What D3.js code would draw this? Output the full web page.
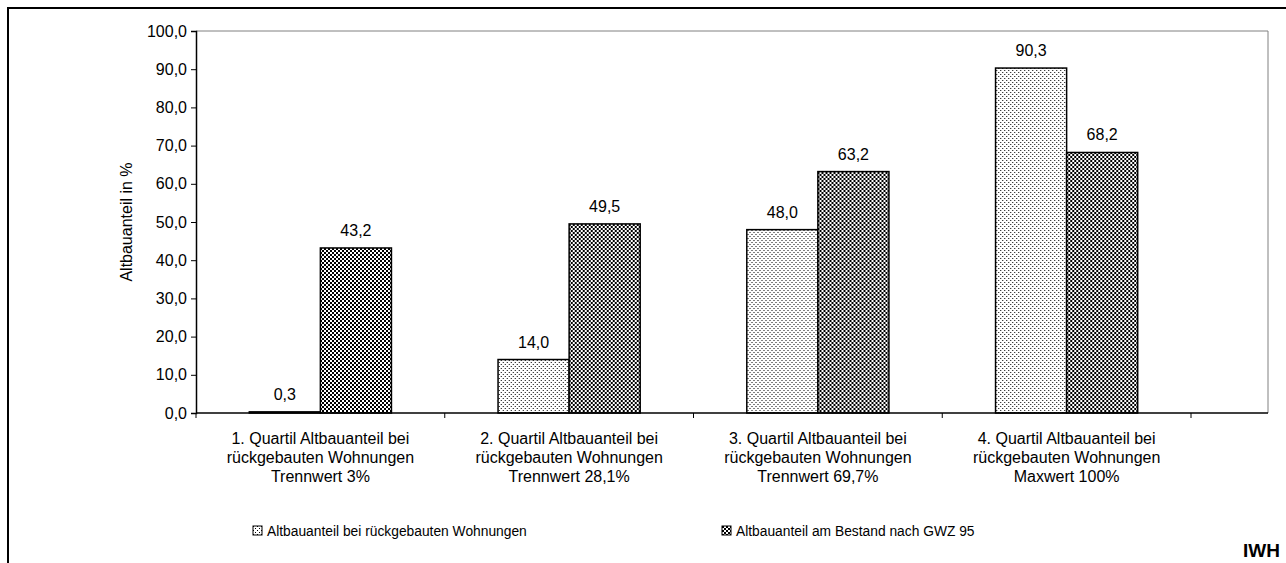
<!DOCTYPE html>
<html>
<head>
<meta charset="utf-8">
<script src="https://cdn.jsdelivr.net/npm/d3@7"></script>
<style>
  body { margin: 0; background: #fff; }
  text { font-family: Arial, "Liberation Sans", sans-serif; fill: #000; }
</style>
</head>
<body>
<div id="chart"></div>
<script>
var categories = [
  ["1. Quartil Altbauanteil bei", "rückgebauten Wohnungen", "Trennwert 3%"],
  ["2. Quartil Altbauanteil bei", "rückgebauten Wohnungen", "Trennwert 28,1%"],
  ["3. Quartil Altbauanteil bei", "rückgebauten Wohnungen", "Trennwert 69,7%"],
  ["4. Quartil Altbauanteil bei", "rückgebauten Wohnungen", "Maxwert 100%"]
];
var seriesNames = ["Altbauanteil bei rückgebauten Wohnungen", "Altbauanteil am Bestand nach GWZ 95"];
var rueckgebaut = [0.3, 14.0, 48.0, 90.3];
var bestand = [43.2, 49.5, 63.2, 68.2];
var yTicks = [0, 10, 20, 30, 40, 50, 60, 70, 80, 90, 100];

var w = 1286, h = 563;
var mLeft = 196, mTop = 31, mBottom = 413, plotRight = 1268, catRight = 1191;
var fs = "16px";

var svg = d3.select("#chart").append("svg")
  .attr("width", w).attr("height", h);

var defs = svg.append("defs");
// light dotted pattern
var p1 = defs.append("pattern").attr("id", "dots").attr("patternUnits", "userSpaceOnUse")
  .attr("width", 4).attr("height", 4);
p1.append("rect").attr("width", 4).attr("height", 4).attr("fill", "#fff");
p1.append("rect").attr("x", 0).attr("y", 0).attr("width", 1).attr("height", 1).attr("fill", "#000");
p1.append("rect").attr("x", 2).attr("y", 2).attr("width", 1).attr("height", 1).attr("fill", "#000");
// dense checker pattern
var p2 = defs.append("pattern").attr("id", "dense").attr("patternUnits", "userSpaceOnUse")
  .attr("width", 4).attr("height", 4);
p2.append("rect").attr("width", 4).attr("height", 4).attr("fill", "#fff");
p2.append("rect").attr("x", 0).attr("y", 0).attr("width", 2).attr("height", 2).attr("fill", "#000");
p2.append("rect").attr("x", 2).attr("y", 2).attr("width", 2).attr("height", 2).attr("fill", "#000");
var fills = ["url(#dots)", "url(#dense)"];

// outer frame (cropped at right / bottom)
svg.append("path").attr("d", "M8," + h + "V8H" + w)
  .attr("fill", "none").attr("stroke", "#000").attr("stroke-width", 2);

var y = d3.scaleLinear().domain([0, 100]).range([mBottom, mTop]);
var x0 = d3.scaleBand().domain(d3.range(categories.length)).range([mLeft, catRight]);
var bw = x0.bandwidth() / 3.5;
var x1 = d3.scaleBand().domain([0, 1]).range([0.75 * bw, 2.75 * bw]);

// plot frame top / right
svg.append("path").attr("d", "M" + mLeft + "," + mTop + "H" + plotRight + "V" + mBottom)
  .attr("fill", "none").attr("stroke", "#808080").attr("stroke-width", 1);

// y axis
var yAxis = svg.append("g").attr("transform", "translate(" + mLeft + ",0)")
  .call(d3.axisLeft(y).tickValues(yTicks).tickSize(5).tickPadding(4)
    .tickFormat(function(d) { return d3.format(".1f")(d).replace(".", ","); }));
yAxis.select(".domain").attr("stroke", "#000").attr("stroke-width", 1.5);
yAxis.selectAll("line").attr("stroke", "#000");
yAxis.selectAll("text").attr("font-size", fs).attr("font-family", "Arial, 'Liberation Sans', sans-serif");

svg.append("text")
  .attr("transform", "translate(132," + ((mTop + mBottom) / 2) + ") rotate(-90)")
  .attr("text-anchor", "middle").attr("font-size", fs)
  .text("Altbauanteil in %");

// bars
var groups = svg.selectAll(".grp").data(categories).enter().append("g")
  .attr("transform", function(d, i) { return "translate(" + x0(i) + ",0)"; });

groups.selectAll("rect").data(function(d, i) { return [rueckgebaut[i], bestand[i]]; })
  .enter().append("rect")
  .attr("x", function(d, j) { return x1(j); })
  .attr("y", function(d) { return y(d); })
  .attr("width", x1.bandwidth())
  .attr("height", function(d) { return mBottom - y(d); })
  .attr("fill", function(d, j) { return fills[j]; })
  .attr("stroke", "#000").attr("stroke-width", 1.5);

groups.selectAll(".val").data(function(d, i) { return [rueckgebaut[i], bestand[i]]; })
  .enter().append("text")
  .attr("x", function(d, j) { return x1(j) + x1.bandwidth() / 2; })
  .attr("y", function(d) { return y(d) - 12; })
  .attr("text-anchor", "middle").attr("font-size", fs)
  .text(function(d) { return d.toFixed(1).replace(".", ","); });

// x axis
svg.append("line").attr("x1", mLeft).attr("x2", plotRight).attr("y1", mBottom).attr("y2", mBottom)
  .attr("stroke", "#000").attr("stroke-width", 1.5);
svg.selectAll(".xt").data(d3.range(categories.length + 1)).enter().append("line")
  .attr("x1", function(i) { return mLeft + i * x0.bandwidth(); })
  .attr("x2", function(i) { return mLeft + i * x0.bandwidth(); })
  .attr("y1", mBottom).attr("y2", mBottom + 5).attr("stroke", "#000");

groups.each(function(lines, i) {
  var t = d3.select(this).append("text").attr("text-anchor", "middle").attr("font-size", fs);
  lines.forEach(function(l, k) {
    t.append("tspan").attr("x", x0.bandwidth() / 2).attr("y", 444 + k * 19).text(l);
  });
});

// legend
var legX = [253, 722];
var leg = svg.selectAll(".leg").data(seriesNames).enter().append("g")
  .attr("transform", function(d, i) { return "translate(" + legX[i] + ",526)"; });
leg.append("rect").attr("width", 9).attr("height", 9)
  .attr("fill", function(d, i) { return fills[i]; })
  .attr("stroke", "#000").attr("stroke-width", 1);
leg.append("text").attr("x", 14).attr("y", 10).attr("font-size", "13.8px").text(function(d) { return d; });

svg.append("text").attr("x", 1280).attr("y", 557).attr("text-anchor", "end")
  .attr("font-size", "19px").attr("font-weight", "bold").text("IWH");
</script>
</body>
</html>
